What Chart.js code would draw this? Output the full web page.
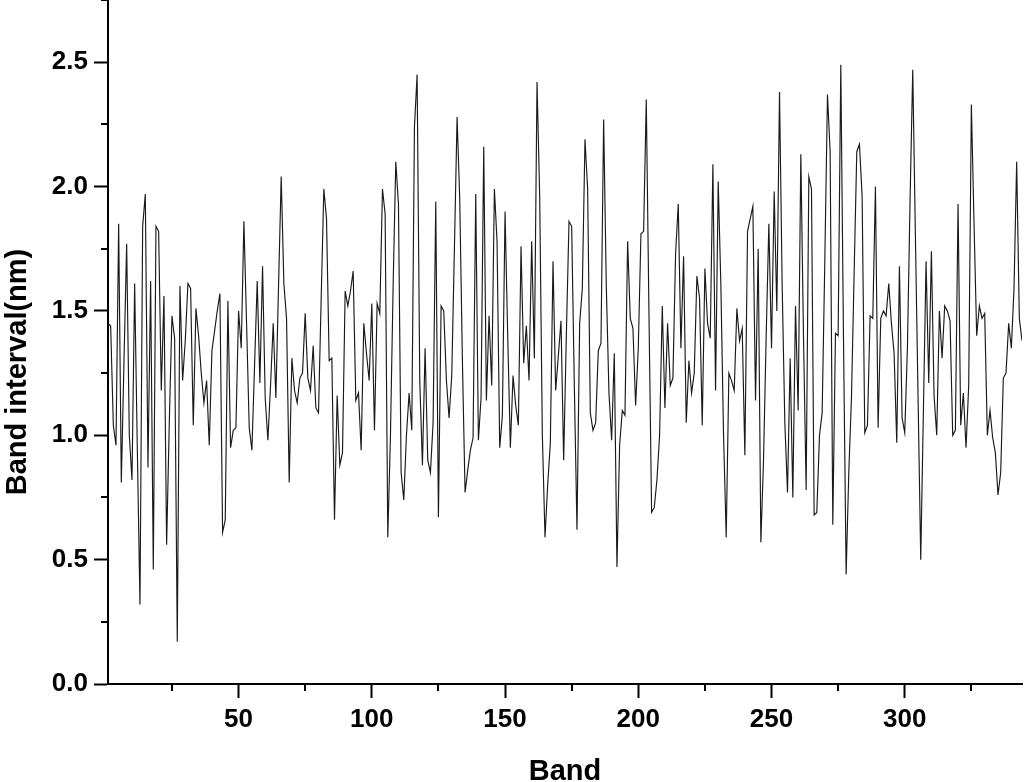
<!DOCTYPE html>
<html>
<head>
<meta charset="utf-8">
<script src="https://cdn.jsdelivr.net/npm/chart.js@4.4.1/dist/chart.umd.min.js"></script>
<style>
  html, body { margin: 0; padding: 0; background: #ffffff; }
  #wrap { width: 1024px; height: 782px; position: relative; }
</style>
</head>
<body>
<div id="wrap"><canvas id="c" width="1024" height="782"></canvas></div>
<script>
// ---- data ----
const bandInterval = [
  1.45,1.44,1.04,0.96,1.85,0.81,1.30,1.77,1.00,0.82,
  1.61,0.95,0.32,1.84,1.97,0.87,1.62,0.46,1.84,1.82,
  1.18,1.56,0.56,1.05,1.48,1.39,0.17,1.60,1.22,1.38,
  1.61,1.59,1.04,1.51,1.40,1.25,1.13,1.22,0.96,1.34,
  1.42,1.50,1.57,0.61,0.66,1.54,0.95,1.02,1.03,1.50,
  1.35,1.86,1.45,1.03,0.94,1.28,1.62,1.21,1.68,1.15,
  0.98,1.20,1.45,1.15,1.60,2.04,1.61,1.47,0.81,1.31,
  1.18,1.13,1.23,1.25,1.49,1.23,1.18,1.36,1.11,1.09,
  1.55,1.99,1.87,1.30,1.31,0.66,1.16,0.88,0.93,1.58,
  1.52,1.58,1.66,1.14,1.17,0.94,1.45,1.33,1.22,1.53,
  1.02,1.53,1.49,1.99,1.89,0.59,1.00,1.60,2.10,1.93,
  0.85,0.74,1.00,1.17,1.02,2.24,2.45,1.22,0.88,1.35,
  0.90,0.85,1.05,1.94,0.67,1.52,1.50,1.22,1.07,1.24,
  1.75,2.28,1.95,1.30,0.77,0.86,0.94,0.99,1.97,0.98,
  1.15,2.16,1.14,1.48,1.20,1.99,1.78,0.95,1.08,1.90,
  1.40,0.95,1.24,1.12,1.04,1.76,1.29,1.44,1.22,1.78,
  1.31,2.42,1.96,1.00,0.59,0.80,0.97,1.70,1.18,1.32,
  1.46,0.90,1.40,1.86,1.84,1.20,0.62,1.45,1.59,2.19,
  1.99,1.09,1.02,1.05,1.34,1.37,2.27,1.60,1.17,0.98,
  1.33,0.47,0.96,1.10,1.08,1.78,1.47,1.43,1.12,1.35,
  1.81,1.82,2.35,1.50,0.69,0.71,0.82,1.00,1.52,1.11,
  1.45,1.20,1.23,1.73,1.93,1.35,1.72,1.05,1.30,1.17,
  1.25,1.64,1.55,1.04,1.67,1.45,1.39,2.09,1.18,2.02,
  1.60,1.00,0.59,1.25,1.22,1.18,1.51,1.38,1.43,0.92,
  1.82,1.87,1.92,1.14,1.75,0.57,0.90,1.40,1.85,1.35,
  1.98,1.50,2.38,1.60,1.05,0.77,1.31,0.75,1.52,1.10,
  2.13,1.40,0.78,2.04,1.99,0.68,0.69,1.00,1.09,1.70,
  2.37,2.14,0.64,1.41,1.40,2.49,1.40,0.44,0.85,1.15,
  1.65,2.14,2.17,1.96,1.01,1.04,1.48,1.47,2.00,1.03,
  1.47,1.50,1.48,1.61,1.45,1.33,0.97,1.68,1.07,1.01,
  1.35,1.95,2.47,1.80,1.15,0.50,1.10,1.70,1.21,1.74,
  1.16,1.00,1.50,1.31,1.52,1.50,1.46,1.00,1.02,1.93,
  1.04,1.17,0.95,1.20,2.33,1.85,1.40,1.52,1.47,1.49,
  1.00,1.10,0.99,0.93,0.76,0.85,1.23,1.25,1.45,1.35,
  1.59,2.10,1.47,1.38
];
const bands = bandInterval.map((_, i) => i + 1);   // band numbers 1..344

const xMajorTicks = [50, 100, 150, 200, 250, 300];
const xMinorTicks = [25, 75, 125, 175, 225, 275, 325];
const yMajorTicks = [0.0, 0.5, 1.0, 1.5, 2.0, 2.5];
const yMinorTicks = [0.25, 0.75, 1.25, 1.75, 2.25, 2.75];

const xTitle = 'Band';
const yTitle = 'Band interval(nm)';

// ---- chart ----
const FONT = '"Liberation Sans", Arial, Helvetica, sans-serif';

const minorTicksAndTitles = {
  id: 'minorTicksAndTitles',
  afterDraw(chart) {
    const ctx = chart.ctx;
    const xs = chart.scales.x, ys = chart.scales.y;
    const ca = chart.chartArea;
    ctx.save();
    ctx.strokeStyle = '#000';
    ctx.lineWidth = 2;
    ctx.beginPath();
    yMinorTicks.forEach(v => {
      const py = Math.round(ys.getPixelForValue(v));
      ctx.moveTo(ca.left, py);
      ctx.lineTo(ca.left - 7, py);
    });
    xMinorTicks.forEach(v => {
      const px = Math.round(xs.getPixelForValue(v));
      ctx.moveTo(px, ca.bottom);
      ctx.lineTo(px, ca.bottom + 7);
    });
    ctx.stroke();

    ctx.fillStyle = '#000';
    ctx.font = 'bold 29px ' + FONT;
    ctx.textAlign = 'center';
    ctx.textBaseline = 'alphabetic';
    ctx.fillText(xTitle, (ca.left + ca.right) / 2, 780);

    ctx.translate(26, 372);
    ctx.rotate(-Math.PI / 2);
    ctx.fillText(yTitle, 0, 0);
    ctx.restore();
  }
};

new Chart(document.getElementById('c'), {
  type: 'line',
  data: {
    datasets: [{
      data: bands.map((b, i) => ({ x: b, y: bandInterval[i] })),
      borderColor: '#1a1a1a',
      borderWidth: 1.15,
      pointRadius: 0,
      tension: 0,
      fill: false
    }]
  },
  options: {
    responsive: false,
    animation: false,
    devicePixelRatio: 1,
    layout: { padding: { top: 0, right: 2, left: 0, bottom: 0 } },
    plugins: { legend: { display: false }, tooltip: { enabled: false } },
    elements: { line: { borderCapStyle: 'butt' } },
    scales: {
      x: {
        type: 'linear',
        min: 1, max: 344,
        afterFit(scale) { scale.height = 98; scale.paddingLeft = 0; scale.paddingRight = 0; },
        afterBuildTicks(scale) { scale.ticks = xMajorTicks.map(v => ({ value: v })); },
        border: { display: true, color: '#000', width: 2 },
        grid: { drawOnChartArea: false, drawTicks: true, tickLength: 14, tickColor: '#000', tickWidth: 2 },
        ticks: {
          autoSkip: false, maxRotation: 0, padding: 6,
          color: '#000',
          font: { family: FONT, size: 26, weight: 'bold' },
          callback: v => String(v)
        },
        title: { display: false }
      },
      y: {
        type: 'linear',
        min: 0, max: 2.75,
        afterFit(scale) { scale.width = 108; scale.paddingTop = 0; scale.paddingBottom = 0; },
        afterBuildTicks(scale) { scale.ticks = yMajorTicks.map(v => ({ value: v })); },
        border: { display: true, color: '#000', width: 2 },
        grid: { drawOnChartArea: false, drawTicks: true, tickLength: 14, tickColor: '#000', tickWidth: 2 },
        ticks: {
          autoSkip: false, padding: 6,
          color: '#000',
          font: { family: FONT, size: 26, weight: 'bold' },
          callback: v => Number(v).toFixed(1)
        },
        title: { display: false }
      }
    }
  },
  plugins: [minorTicksAndTitles]
});
</script>
</body>
</html>
